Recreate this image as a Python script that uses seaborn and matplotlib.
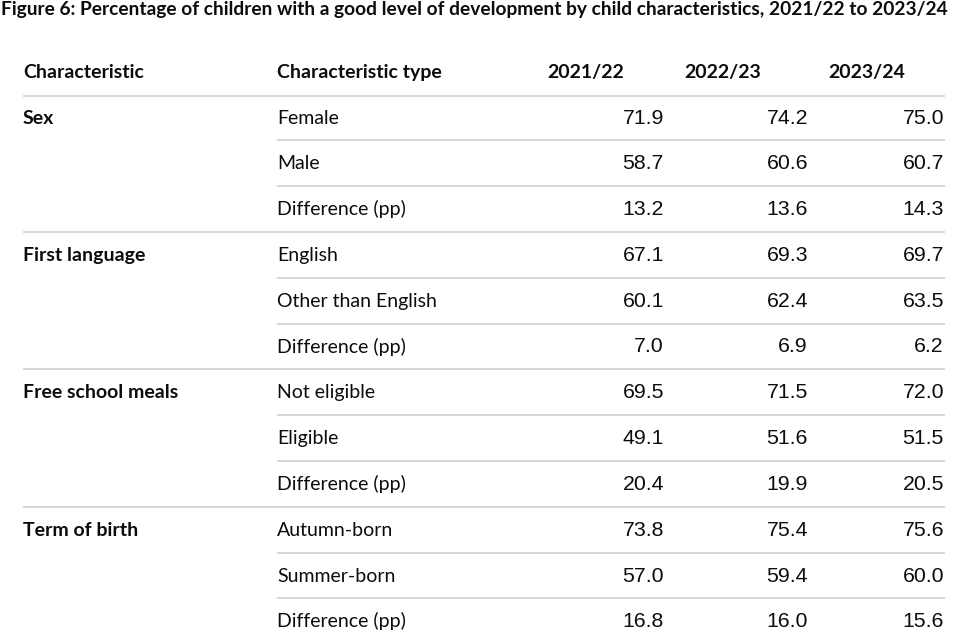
import matplotlib
matplotlib.use("Agg")
import matplotlib.pyplot as plt
import seaborn as sns

sns.set_theme(style="white")
plt.rcParams['font.family'] = ['Lato', 'DejaVu Sans']

title = "Figure 6: Percentage of children with a good level of development by child characteristics, 2021/22 to 2023/24"
headers = ["Characteristic", "Characteristic type", "2021/22", "2022/23", "2023/24"]
characteristics = ["Sex", "First language", "Free school meals", "Term of birth"]
types = [
    ["Female", "Male", "Difference (pp)"],
    ["English", "Other than English", "Difference (pp)"],
    ["Not eligible", "Eligible", "Difference (pp)"],
    ["Autumn-born", "Summer-born", "Difference (pp)"],
]
v2122 = [71.9, 58.7, 13.2, 67.1, 60.1, 7.0, 69.5, 49.1, 20.4, 73.8, 57.0, 16.8]
v2223 = [74.2, 60.6, 13.6, 69.3, 62.4, 6.9, 71.5, 51.6, 19.9, 75.4, 59.4, 16.0]
v2324 = [75.0, 60.7, 14.3, 69.7, 63.5, 6.2, 72.0, 51.5, 20.5, 75.6, 60.0, 15.6]

W, H = 970, 639
fig = plt.figure(figsize=(W / 100, H / 100), dpi=100)
ax = fig.add_axes([0, 0, 1, 1])
ax.set_xlim(0, W)
ax.set_ylim(H, 0)
ax.axis("off")

txt = "#0b0c0c"
grid = "#cfd1d2"
fs = 14
base = 6

ax.text(1, 9 + base, title, fontsize=13.8, fontweight="bold", color=txt, va="baseline", ha="left")

x_char, x_type = 23, 277
x_hdr = [547, 684, 828]
x_val = [664, 808, 944]
y_hdr = 72
row_y0, row_h = 117.5, 45.8
line_end = 945

for x, h in zip([x_char, x_type] + x_hdr, headers):
    ax.text(x, y_hdr + base, h, fontsize=fs, fontweight="bold", color=txt, va="baseline", ha="left")
ax.hlines(y_hdr + 23.5, x_char, line_end, color=grid, lw=1.2)

cols = [v2122, v2223, v2324]
r = 0
for gi, (c, tlist) in enumerate(zip(characteristics, types)):
    for ti, t in enumerate(tlist):
        y = row_y0 + r * row_h
        if ti == 0:
            ax.text(x_char, y + base, c, fontsize=fs, fontweight="bold", color=txt, va="baseline", ha="left")
        ax.text(x_type, y + base, t, fontsize=fs, color=txt, va="baseline", ha="left")
        for xv, col in zip(x_val, cols):
            ax.text(xv, y + base, f"{col[r]:.1f}", fontsize=15.3, color=txt, va="baseline", ha="right",
                    family=["Liberation Sans", "DejaVu Sans"])
        yl = y + row_h / 2
        if r < len(v2122) - 1:
            start = x_char if ti == len(tlist) - 1 else x_type
            ax.hlines(yl, start, line_end, color=grid, lw=1.2)
        r += 1

fig.savefig("out.png", dpi=100)
